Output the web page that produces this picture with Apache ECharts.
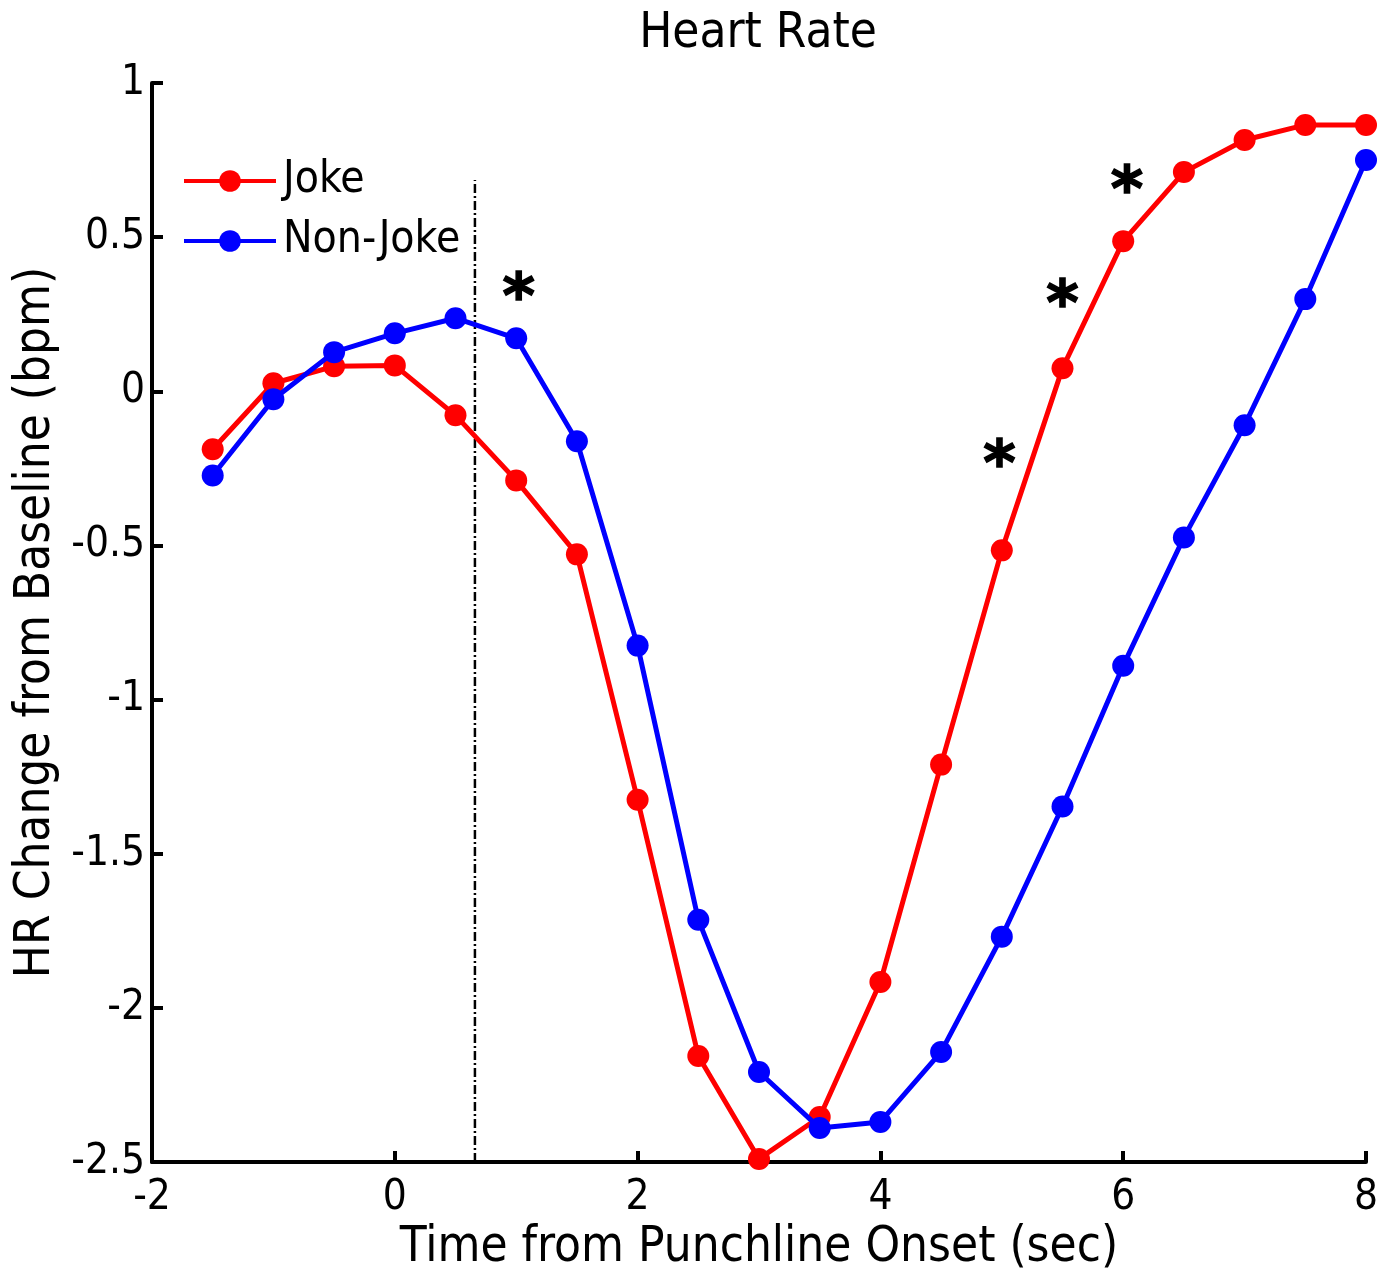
<!DOCTYPE html>
<html>
<head>
<meta charset="utf-8">
<script src="https://cdn.jsdelivr.net/npm/echarts@6/dist/echarts.min.js"></script>
<style>
html,body{margin:0;padding:0;background:#fff;}
#chart{width:1388px;height:1274px;}
</style>
</head>
<body>
<div id="chart"></div>
<script>
const FONT = '"DejaVu Sans Condensed", "DejaVu Sans", sans-serif';
const times = [-1.5,-1,-0.5,0,0.5,1,1.5,2,2.5,3,3.5,4,4.5,5,5.5,6,6.5,7,7.5,8];
const joke = [-0.188,0.026,0.081,0.084,-0.078,-0.289,-0.529,-1.325,-2.156,-2.49,-2.354,-1.916,-1.211,-0.516,0.075,0.487,0.711,0.815,0.864,0.864];
const nonJoke = [-0.273,-0.026,0.127,0.188,0.237,0.172,-0.162,-0.825,-1.714,-2.208,-2.39,-2.37,-2.143,-1.769,-1.347,-0.89,-0.474,-0.110,0.299,0.750];
const onsetLine = [[0.66,-2.5],[0.66,0.685]];
const starX = [1.02, 4.98, 5.5, 6.03];
const starY = [0.344, -0.198, 0.321, 0.692];
const xTicks = {min:-2, max:8, interval:2};
const yTicks = {min:-2.5, max:1, interval:0.5};

const chart = echarts.init(document.getElementById('chart'));
chart.setOption({
  animation:false,
  backgroundColor:'#fff',
  title:{text:'Heart Rate', left:753, textAlign:'center', top:5, textStyle:{fontFamily:FONT, fontSize:49, fontWeight:'normal', color:'#000'}},
  grid:{left:152, right:22, top:83, bottom:112, containLabel:false, outerBoundsMode:'none'},
  legend:{
    data:['Joke','Non-Joke'], orient:'vertical', left:177, top:150,
    itemWidth:92, itemHeight:27, itemGap:8,
    lineStyle:{width:4},
    textStyle:{fontFamily:FONT, fontSize:44, color:'#000', lineHeight:52, padding:[0,0,0,2]}
  },
  xAxis:{
    type:'value', min:xTicks.min, max:xTicks.max, interval:xTicks.interval,
    name:'Time from Punchline Onset (sec)', nameLocation:'middle', nameGap:60,
    nameTextStyle:{fontFamily:FONT, fontSize:49, color:'#000'},
    axisLine:{onZero:false, lineStyle:{color:'#000', width:4}},
    axisTick:{inside:true, length:11, lineStyle:{color:'#000', width:4}},
    axisLabel:{fontFamily:FONT, fontSize:42, color:'#000', margin:15},
    splitLine:{show:false}
  },
  yAxis:{
    type:'value', min:yTicks.min, max:yTicks.max, interval:yTicks.interval,
    name:'HR Change from Baseline (bpm)', nameLocation:'middle', nameGap:90,
    nameTextStyle:{fontFamily:FONT, fontSize:49, color:'#000'},
    axisLine:{onZero:false, lineStyle:{color:'#000', width:4}},
    axisTick:{inside:true, length:11, lineStyle:{color:'#000', width:4}},
    axisLabel:{fontFamily:FONT, fontSize:42, color:'#000', margin:7},
    splitLine:{show:false}
  },
  series:[
    {name:'Onset', type:'line', data:onsetLine, symbol:'none', silent:true,
     lineStyle:{color:'#000', width:2.5, type:[9,3,2,3]}, z:1},
    {name:'Joke', type:'line', data:times.map((t,i)=>[t,joke[i]]), symbol:'circle', symbolSize:22,
     itemStyle:{color:'#ff0000'}, lineStyle:{color:'#ff0000', width:5}, z:3},
    {name:'Non-Joke', type:'line', data:times.map((t,i)=>[t,nonJoke[i]]), symbol:'circle', symbolSize:22,
     itemStyle:{color:'#0000ff'}, lineStyle:{color:'#0000ff', width:5}, z:4},
    {name:'sig', type:'scatter', data:starX.map((x,i)=>[x,starY[i]]), symbolSize:0, silent:true,
     itemStyle:{color:'#000', opacity:1},
     label:{show:true, position:'inside', formatter:'*', fontFamily:'"DejaVu Sans", sans-serif', fontWeight:'bold', fontSize:62, color:'#000', opacity:1, textBorderColor:'#000', textBorderWidth:1.5, offset:[0,16]}, z:5}
  ]
});
</script>
</body>
</html>
